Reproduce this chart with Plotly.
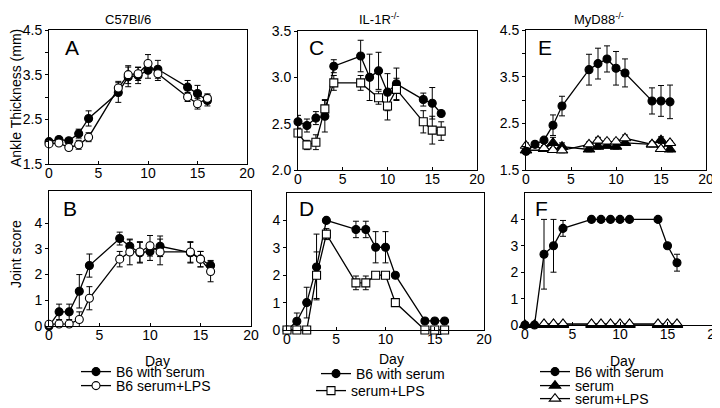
import plotly.graph_objects as go

# ---------------- data ----------------
days = [0, 1, 2, 3, 4, 7, 8, 9, 10, 11, 14, 15, 16]

# Panel A (C57Bl/6, ankle thickness)
A_serum = [2.00, 2.05, 2.02, 2.18, 2.52, 3.10, 3.45, 3.48, 3.60, 3.62, 3.22, 3.08, 2.92]
A_serum_err = [0.05, 0.05, 0.05, 0.10, 0.17, 0.22, 0.22, 0.18, 0.18, 0.20, 0.15, 0.18, 0.12]
A_lps = [1.95, 1.97, 1.87, 1.93, 2.10, 3.20, 3.50, 3.52, 3.75, 3.52, 3.00, 2.85, 2.97]
A_lps_err = [0.05, 0.05, 0.05, 0.10, 0.10, 0.15, 0.20, 0.15, 0.20, 0.15, 0.10, 0.12, 0.10]

# Panel B (C57Bl/6, joint score)
B_serum = [0.0, 0.55, 0.55, 1.35, 2.35, 3.40, 3.10, 2.85, 2.90, 3.10, 2.85, 2.60, 2.35]
B_serum_err = [0, 0.30, 0.30, 0.65, 0.45, 0.25, 0.25, 0.40, 0.35, 0.40, 0.40, 0.30, 0.20]
B_lps = [0.07, 0.08, 0.08, 0.25, 1.08, 2.60, 2.88, 2.88, 3.12, 2.88, 2.88, 2.60, 2.12]
B_lps_err = [0, 0, 0, 0.30, 0.45, 0.30, 0.50, 0.40, 0.40, 0.50, 0.40, 0.30, 0.40]

# Panel C (IL-1R-/-, ankle thickness)
C_serum = [2.52, 2.48, 2.56, 2.58, 3.12, 3.23, 3.00, 3.07, 2.84, 2.93, 2.76, 2.72, 2.61]
C_serum_err = [0.07, 0.07, 0.07, 0.17, 0.07, 0.17, 0.25, 0.20, 0.20, 0.17, 0.07, 0.17, 0.0]
C_lps_days = [0, 1, 2, 3, 4, 7, 9, 10, 11, 14, 15, 16]
C_lps = [2.40, 2.27, 2.30, 2.66, 2.94, 2.94, 2.78, 2.69, 2.87, 2.52, 2.43, 2.42]
C_lps_err = [0.05, 0.05, 0.08, 0.10, 0.08, 0.08, 0.07, 0.15, 0.12, 0.12, 0.15, 0.10]

# Panel D (IL-1R-/-, joint score)
D_serum = [0.0, 0.32, 1.0, 2.3, 4.0, 3.67, 3.67, 3.02, 3.02, 2.0, 0.33, 0.33, 0.33]
D_serum_err = [0, 0.30, 0.56, 1.20, 0, 0.30, 0.30, 0.57, 0.57, 0, 0, 0, 0]
D_lps = [0.0, 0.0, 0.0, 2.0, 3.5, 1.72, 1.72, 2.0, 2.0, 1.0, 0.0, 0.0, 0.0]
D_lps_err = [0, 0, 0, 0.85, 0.20, 0.25, 0.25, 0, 0, 0, 0, 0, 0]

# Panel E (MyD88-/-, ankle thickness)
E_serum = [1.90, 2.05, 2.14, 2.46, 2.87, 3.65, 3.78, 3.88, 3.68, 3.58, 2.98, 2.98, 2.96]
E_serum_err = [0.07, 0.04, 0.05, 0.22, 0.21, 0.33, 0.33, 0.28, 0.36, 0.30, 0.28, 0.33, 0.36]
E_serumonly = [1.92, 1.98, 1.95, 2.08, 2.00, 1.94, 2.00, 2.02, 2.00, 2.08, 2.05, 2.14, 1.94]
E_serumonly_err = [0.07, 0.05, 0.05, 0.12, 0.08, 0.05, 0.05, 0.05, 0.05, 0.05, 0.05, 0.07, 0.05]
E_lps = [2.02, 1.98, 1.97, 1.93, 1.92, 2.05, 2.13, 2.11, 2.11, 2.18, 2.05, 1.95, 2.08]
E_lps_err = [0.06, 0.05, 0.05, 0.05, 0.05, 0.05, 0.07, 0.05, 0.05, 0.07, 0.05, 0.05, 0.05]

# Panel F (MyD88-/-, joint score)
F_serum = [0.0, 0.0, 2.68, 3.0, 3.66, 4.0, 4.0, 4.0, 4.0, 4.0, 4.0, 3.0, 2.36]
F_serum_err = [0, 0, 1.32, 1.0, 0.30, 0, 0, 0, 0, 0, 0, 0, 0.32]
F_serumonly = [0.0] * 13
F_lps_days = [2, 3, 4, 7, 8, 9, 10, 11, 14, 15, 16]
F_lps = [0.04] * 11

xticks = [0, 5, 10, 15, 20]

FONT = "Liberation Sans, Arial, Helvetica, sans-serif"
W, H = 720, 408

fig = go.Figure()


def add(x, y, err, xa, ya, symbol, fill, size, name, legend, showlegend=True):
    fig.add_trace(go.Scatter(
        x=x, y=y, mode="lines+markers", name=name,
        xaxis=xa, yaxis=ya, legend=legend, showlegend=showlegend,
        line=dict(color="black", width=1.3),
        marker=dict(symbol=symbol, size=size, color=fill,
                    line=dict(color="black", width=1.1)),
        error_y=dict(type="data", array=err, visible=err is not None,
                     color="black", thickness=1, width=3),
        cliponaxis=False, hoverinfo="skip",
    ))


# A
add(days, A_serum, A_serum_err, "x", "y", "circle", "black", 8, "B6 with serum", "legend", False)
add(days, A_lps, A_lps_err, "x", "y", "circle", "white", 8, "B6 serum+LPS", "legend", False)
# B
add(days, B_serum, B_serum_err, "x2", "y2", "circle", "black", 8, "B6 with serum", "legend")
add(days, B_lps, B_lps_err, "x2", "y2", "circle", "white", 8, "B6 serum+LPS", "legend2")
# C
add(days, C_serum, C_serum_err, "x3", "y3", "circle", "black", 8, "B6 with serum", "legend", False)
add(C_lps_days, C_lps, C_lps_err, "x3", "y3", "square", "white", 8, "serum+LPS", "legend", False)
# D
add(days, D_serum, D_serum_err, "x4", "y4", "circle", "black", 8, "B6 with serum", "legend3")
add(days, D_lps, D_lps_err, "x4", "y4", "square", "white", 8, "serum+LPS", "legend4")
# E
add(days, E_serumonly, E_serumonly_err, "x5", "y5", "triangle-up", "black", 10, "serum", "legend", False)
add(days, E_lps, E_lps_err, "x5", "y5", "triangle-up", "white", 10, "serum+LPS", "legend", False)
add(days, E_serum, E_serum_err, "x5", "y5", "circle", "black", 8, "B6 with serum", "legend", False)
# F
add(days, F_serum, F_serum_err, "x6", "y6", "circle", "black", 8, "B6 with serum", "legend5")
add(days, F_serumonly, None, "x6", "y6", "triangle-up", "black", 10, "serum", "legend6")
add(F_lps_days, F_lps, None, "x6", "y6", "triangle-up", "white", 10, "serum+LPS", "legend7")

# panel boxes in pixels: left, right, top, bottom
boxes = {
    "": (41, 239, 22, 156),
    "2": (41, 243, 183, 318),
    "3": (290, 469, 23, 162),
    "4": (279, 476, 185, 322),
    "5": (518, 698, 22, 162),
    "6": (517, 707, 185, 317),
}
yranges = {
    "": ([1.5, 4.5], [1.5, 2.5, 3.5, 4.5], ["1.5", "2.5", "3.5", "4.5"]),
    "2": ([0, 5.25], [0, 1, 2, 3, 4], ["0", "1", "2", "3", "4"]),
    "3": ([2.0, 3.5], [2.0, 2.5, 3.0, 3.5], ["2.0", "2.5", "3.0", "3.5"]),
    "4": ([0, 5.0], [0, 1, 2, 3, 4], ["0", "1", "2", "3", "4"]),
    "5": ([1.5, 4.5], [1.5, 2.5, 3.5, 4.5], ["1.5", "2.5", "3.5", "4.5"]),
    "6": ([0, 5.0], [0, 1, 2, 3, 4], ["0", "1", "2", "3", "4"]),
}

layout = dict(
    width=W, height=H, margin=dict(l=0, r=0, t=0, b=0, pad=0, autoexpand=False),
    paper_bgcolor="white", plot_bgcolor="white",
    font=dict(family=FONT, size=14, color="black"),
    showlegend=True,
)
for k, (l, r, t, b) in boxes.items():
    rng, tv, tt = yranges[k]
    minor = dict(ticks="outside", dtick=0.5, tick0=1.5, ticklen=3, tickcolor="black") if k in ("", "5") else None
    layout["xaxis" + k] = dict(
        domain=[l / W, r / W], anchor="y" + k, range=[0, 20],
        tickvals=xticks, ticktext=[str(v) for v in xticks],
        ticks="inside", ticklen=3, tickcolor="black", automargin=False,
        ticklabelstandoff=-4,
        showline=True, linecolor="black", linewidth=1, mirror=True,
        showgrid=False, zeroline=False, fixedrange=True,
    )
    yd = dict(
        domain=[1 - b / H, 1 - t / H], anchor="x" + k, range=rng,
        tickvals=tv, ticktext=tt, automargin=False,
        ticks="outside", ticklen=3, tickcolor="black",
        showline=True, linecolor="black", linewidth=1, mirror=True,
        showgrid=False, zeroline=False, fixedrange=True,
    )
    if minor:
        yd["minor"] = minor
    layout["yaxis" + k] = yd

# legends (one per entry so line spacing matches the reference)
leg_pos = {
    "legend": (116, 372), "legend2": (116, 386),
    "legend3": (356, 374), "legend4": (351, 391),
    "legend5": (575, 372), "legend6": (575, 386), "legend7": (575, 399),
}
for name, (tx, ty) in leg_pos.items():
    layout[name] = dict(
        x=(tx - 48) / W, y=1 - (ty - 8) / H, xanchor="left", yanchor="middle",
        xref="paper", yref="paper",
        bgcolor="rgba(0,0,0,0)", borderwidth=0,
        font=dict(family=FONT, size=14, color="black"),
        itemwidth=30, tracegroupgap=0, itemclick=False, itemdoubleclick=False,
    )

fig.update_layout(**layout)

# text annotations: titles, panel letters, axis titles
texts = [
    ("C57Bl/6", 120, 11, 13, 0),
    ("IL-1R<sup>-/-</sup>", 371, 11, 13, 0),
    ("MyD88<sup>-/-</sup>", 591, 11, 13, 0),
    ("A", 64, 40, 21, 0),
    ("B", 62, 200, 21, 0),
    ("C", 308, 40, 21, 0),
    ("D", 298, 200, 21, 0),
    ("E", 537, 40, 21, 0),
    ("F", 533, 200, 21, 0),
    ("Day", 149, 353, 14, 0),
    ("Day", 383, 351, 14, 0),
    ("Day", 614, 353, 14, 0),
    ("Ankle Thickness (mm)", 8, 90, 14, -90),
    ("Joint score", 8, 246, 14, -90),
]
for txt, x, y, size, ang in texts:
    fig.add_annotation(
        text=txt, x=x / W, y=1 - y / H, xref="paper", yref="paper",
        xanchor="center", yanchor="middle", showarrow=False, textangle=ang,
        font=dict(family=FONT, size=size, color="black"),
    )

fig.write_html("out.html", config={"displayModeBar": False})
